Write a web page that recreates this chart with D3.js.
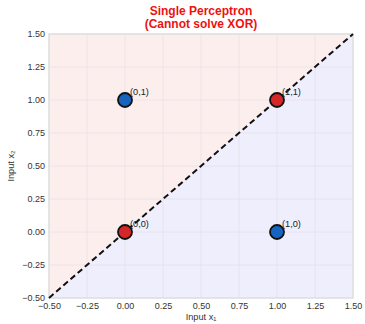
<!DOCTYPE html>
<html>
<head>
<meta charset="utf-8">
<script src="https://cdn.jsdelivr.net/npm/d3@7"></script>
<style>
  html, body { margin: 0; padding: 0; background: #ffffff; }
  svg { display: block; font-family: "Liberation Sans", Arial, sans-serif; }
</style>
</head>
<body>
<svg id="chart" width="365" height="324"></svg>
<script>
// XOR inputs and their classes
const pointX = [0, 0, 1, 1];
const pointY = [0, 1, 0, 1];
const pointClass = [0, 1, 1, 0];   // 0 = red, 1 = blue
const pointLabels = ["(0,0)", "(0,1)", "(1,0)", "(1,1)"];

// Linear decision boundary x2 = x1
const boundaryX = [-0.5, 1.5];
const boundaryY = [-0.5, 1.5];

const tickValues = [-0.5, -0.25, 0, 0.25, 0.5, 0.75, 1, 1.25, 1.5];
const titleLines = ["Single Perceptron", "(Cannot solve XOR)"];
const xLabel = "Input x\u2081";
const yLabel = "Input x\u2082";

const svg = d3.select("#chart");
const margin = { left: 49, right: 12, top: 34, bottom: 26 };
const W = 365, H = 324;

const x = d3.scaleLinear().domain([-0.5, 1.5]).range([margin.left, W - margin.right]);
const y = d3.scaleLinear().domain([-0.5, 1.5]).range([H - margin.bottom, margin.top]);

// Region shading: above the boundary (pink) and below (lavender)
const above = [[-0.5, -0.5], [1.5, 1.5], [-0.5, 1.5]];
const below = [[-0.5, -0.5], [1.5, -0.5], [1.5, 1.5]];
const area = d3.line().x(d => x(d[0])).y(d => y(d[1]));
svg.append("path").attr("d", area(above) + "Z").attr("fill", "#fdeeee");
svg.append("path").attr("d", area(below) + "Z").attr("fill", "#eeeefd");

// Grid
const grid = svg.append("g");
grid.selectAll("line.gx").data(tickValues).join("line")
  .attr("x1", d => x(d)).attr("x2", d => x(d))
  .attr("y1", y(-0.5)).attr("y2", y(1.5))
  .attr("stroke", "#e4e0e6").attr("stroke-width", 0.8);
grid.selectAll("line.gy").data(tickValues).join("line")
  .attr("y1", d => y(d)).attr("y2", d => y(d))
  .attr("x1", x(-0.5)).attr("x2", x(1.5))
  .attr("stroke", "#e4e0e6").attr("stroke-width", 0.8);

// Frame
svg.append("rect")
  .attr("x", x(-0.5)).attr("y", y(1.5))
  .attr("width", x(1.5) - x(-0.5)).attr("height", y(-0.5) - y(1.5))
  .attr("fill", "none").attr("stroke", "#dddddd").attr("stroke-width", 1.2);

// Axes
const fmt = d3.format(".2f");
const fmtTick = d => fmt(d).replace("-", "\u2212");
const xAxis = svg.append("g").attr("transform", `translate(0,${y(-0.5)})`)
  .call(d3.axisBottom(x).tickValues(tickValues).tickFormat(fmtTick).tickSize(0).tickPadding(5));
const yAxis = svg.append("g").attr("transform", `translate(${x(-0.5)},0)`)
  .call(d3.axisLeft(y).tickValues(tickValues).tickFormat(fmtTick).tickSize(0).tickPadding(4));
[xAxis, yAxis].forEach(a => {
  a.select(".domain").remove();
  a.selectAll("text").attr("fill", "#333333").attr("font-size", 9)
    .attr("font-family", "Liberation Sans, Arial, sans-serif");
});

// Boundary line
svg.append("path")
  .datum(boundaryX.map((v, i) => [v, boundaryY[i]]))
  .attr("d", d3.line().x(d => x(d[0])).y(d => y(d[1])))
  .attr("stroke", "#111111").attr("stroke-width", 2)
  .attr("stroke-dasharray", "6,3.5").attr("fill", "none");

// Points
const colors = ["#d62728", "#1565c0"];
const pts = pointX.map((v, i) => ({ x: v, y: pointY[i], c: pointClass[i], label: pointLabels[i] }));
svg.append("g").selectAll("circle").data(pts).join("circle")
  .attr("cx", d => x(d.x)).attr("cy", d => y(d.y)).attr("r", 7)
  .attr("fill", d => colors[d.c]).attr("stroke", "#111111").attr("stroke-width", 1.8);

svg.append("g").selectAll("text").data(pts).join("text")
  .attr("x", d => x(d.x) + 5).attr("y", d => y(d.y) - 5)
  .attr("font-size", 9.2).attr("fill", "#222222")
  .text(d => d.label);

// Title
svg.append("g").selectAll("text").data(titleLines).join("text")
  .attr("x", (x(-0.5) + x(1.5)) / 2).attr("y", (d, i) => 15 + i * 12.5)
  .attr("text-anchor", "middle").attr("font-weight", "bold").attr("font-size", 12)
  .attr("fill", "#ee1111").text(d => d);

// Axis labels
svg.append("text").attr("x", (x(-0.5) + x(1.5)) / 2).attr("y", 320)
  .attr("text-anchor", "middle").attr("font-size", 9.2).attr("fill", "#333333").text(xLabel);
svg.append("text").attr("transform", `translate(14,${(y(-0.5) + y(1.5)) / 2}) rotate(-90)`)
  .attr("text-anchor", "middle").attr("font-size", 9.2).attr("fill", "#333333").text(yLabel);
</script>
</body>
</html>
